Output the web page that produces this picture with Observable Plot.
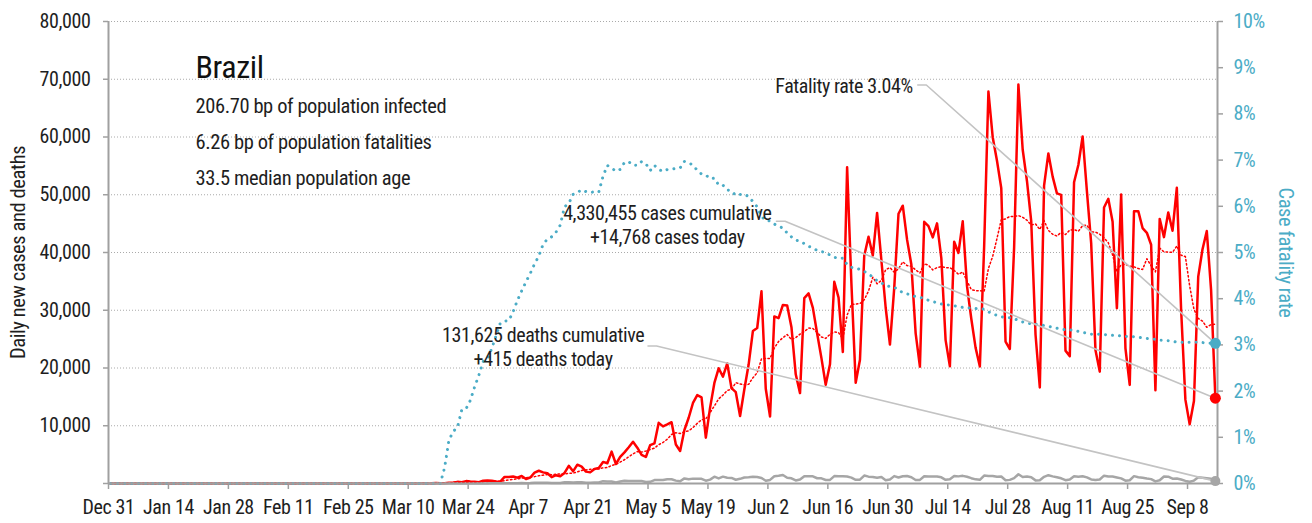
<!DOCTYPE html>
<html><head><meta charset="utf-8">
<script src="https://cdn.jsdelivr.net/npm/d3@7"></script>
<script src="https://cdn.jsdelivr.net/npm/@observablehq/plot@0.6"></script>
<style>
body{margin:0;background:#fff;}
#chart{width:1312px;height:523px;}
</style></head><body><div id="chart"></div>
<script>
// ---- axis domain & ticks ----
const startDate = "2019-12-31";
const endDate = "2020-09-15";
const xTickDates = ["2019-12-31","2020-01-14","2020-01-28","2020-02-11","2020-02-25","2020-03-10","2020-03-24","2020-04-07","2020-04-21","2020-05-05","2020-05-19","2020-06-02","2020-06-16","2020-06-30","2020-07-14","2020-07-28","2020-08-11","2020-08-25","2020-09-08"];
const yTicks = [0,10000,20000,30000,40000,50000,60000,70000,80000];
const cfrTicks = [0,1,2,3,4,5,6,7,8,9,10];
const yMax = 80000;   // left axis top
const cfrMax = 10;    // right axis top (%)

// ---- daily new cases, one value per day from Dec 31 ----
const dailyCases = [
0,0,0,0,0,0,0,0,0,0, 0,0,0,0,0,0,0,0,0,0, 0,0,0,0,0,0,0,0,0,0,
0,0,0,0,0,0,0,0,0,0, 0,0,0,0,0,0,0,0,0,0, 0,0,0,0,0,0,0,0,
1,0,0,1,0,0,0,1,5,5,6,5,1,9,18,25,21,23,79,34,
57,137,193,283,224,418,345,310,232,482,502,487,352,323,1138,
1119,1208,1012,1304,770,1031,1873,2210,1930,1781,1089,1442,1261,1832,3058,2105,3257,2917,2055,1927,2498,2678,3735,3503,5514,3379,4613,5385,6276,7218,
6209,4970,4588,6633,6935,10503,9888,10222,10611,6760,5632,9258,11385,13944,15305,14919,7938,13140,17408,19951,18508,20803,16508,15813,11687,16324,20599,26417,26928,33274,16409,
11598,28936,28633,30925,30830,27075,18912,15654,32091,32913,30412,25982,21704,17110,20647,34918,32188,22765,54771,34666,17459,21432,39436,42725,39483,46860,38693,30476,24052,33846,
46712,48105,42223,37923,26051,20229,45305,44571,42619,45048,39023,24831,20286,41857,39924,45403,34177,28532,23529,20257,41008,67860,59961,55891,51147,24578,23284,40816,69074,57837,52383,
45392,25800,16641,51603,57152,53139,50230,49970,23010,22048,52160,55155,60091,50644,41576,23101,19373,47784,49298,45323,30355,50032,23421,17078,47134,47161,44235,43412,41350,16158,45821,
42659,46934,43773,51194,30168,14521,10273,14279,35816,40557,43718,33523,14768
];

// ---- daily new deaths, one value per day from Dec 31 ----
const dailyDeaths = [
0,0,0,0,0,0,0,0,0,0, 0,0,0,0,0,0,0,0,0,0, 0,0,0,0,0,0,0,0,0,0,
0,0,0,0,0,0,0,0,0,0, 0,0,0,0,0,0,0,0,0,0, 0,0,0,0,0,0,0,0,0,0,
0,0,0,0,0,0,0,0,0,0, 0,0,0,0,0,0,0,0,
1,3,3,4,7,7,9,12,11,20,15,22,22,23,42,
40,58,60,73,54,67,114,133,141,115,68,99,105,204,204,188,217,206,115,113,166,165,407,357,346,189,338,474,449,435,
428,421,275,296,600,615,610,751,730,496,396,881,749,844,824,816,485,674,1179,888,1188,1001,965,653,807,1039,1086,1156,1124,956,480,
623,1262,1349,1473,1005,904,525,679,1272,1274,1239,909,892,612,627,1282,1269,1238,1206,1022,641,654,1374,1185,1141,990,1109,552,692,1280,
1038,1252,1290,1091,602,620,1254,1223,1220,1214,1071,631,733,1300,1233,1322,1163,921,716,632,1367,1284,1311,1156,1211,555,627,921,1595,1129,1212,
1088,541,561,1154,1437,1237,1079,905,572,703,1274,1175,1262,1060,709,620,684,1352,1212,1204,1054,892,494,565,1271,1085,984,855,758,366,553,
1215,1184,834,874,682,447,310,504,1075,983,899,814,415
];

// ---- text ----
const titleText = "Brazil";
const statLines = ["206.70 bp of population infected","6.26 bp of population fatalities","33.5 median population age"];
const leftLabel = "Daily new cases and deaths";
const rightLabel = "Case fatality rate";

// ---- colours ----
const RED = "#ff0000", BLUE = "#4bacc6", GRAY = "#a6a6a6", AXIS = "#a0a0a0", LEADER = "#c3c3c3", INK = "#1e1e1e";

// ---- build table ----
const t0 = new Date(startDate);
const cumCases = d3.cumsum(dailyCases);
const cumDeaths = d3.cumsum(dailyDeaths);
const rows = dailyCases.map((c, i) => {
  const cfr = cumCases[i] > 0 ? cumDeaths[i] / cumCases[i] * 100 : 0;
  return {date: d3.utcDay.offset(t0, i), cases: c, deaths: dailyDeaths[i], cfrY: cfr * yMax / cfrMax};
});
const X = d => d3.utcHour.offset(d.date, 12); // points sit in the middle of each day
const last = rows[rows.length - 1];

// ---- annotations (anchor in data space) ----
const notes = [
  {text: "Fatality rate 3.04%", tx: "2020-07-07", ty: 69000, anchor: "end", dx: -5,
   lx: "2020-07-07", ly: 69000, ex: "2020-07-09", target: "cfrY"},
  {text: "4,330,455 cases cumulative\n+14,768 cases today", tx: "2020-05-09T12:00", ty: 44900, anchor: "middle", dx: 0,
   lx: "2020-06-04", ly: 45400, ex: "2020-06-06", target: "cases"},
  {text: "131,625 deaths cumulative\n+415 deaths today", tx: "2020-04-10T12:00", ty: 23700, anchor: "middle", dx: 0,
   lx: "2020-05-05", ly: 23800, ex: "2020-05-07", target: "deaths"}
];
const leaderPaths = notes.map(n => [
  {x: new Date(n.lx), y: n.ly},
  {x: new Date(n.ex), y: n.ly},
  {x: X(last), y: last[n.target]}
]);

const fmtDate = d3.utcFormat("%b %-d");
const fmtNum = d3.format(",");
const cfrTickVals = cfrTicks.map(p => p * yMax / cfrMax);

const plot = Plot.plot({
  width: 1312, height: 523,
  marginLeft: 108, marginRight: 95, marginTop: 21, marginBottom: 40,
  style: {fontFamily: "'Roboto Condensed', 'Roboto', sans-serif", fontSize: "20px", color: INK, background: "#fff", overflow: "visible", letterSpacing: "-0.4px"},
  x: {type: "utc", domain: [new Date(startDate), new Date(endDate)]},
  y: {domain: [0, yMax]},
  marks: [
    Plot.gridY({ticks: yTicks.filter(d => d > 0), stroke: "#aaaaaa", strokeOpacity: 1, strokeDasharray: "1,2"}),
    // axis ticks and labels
    Plot.axisY({ticks: yTicks, tickSize: 5, tickFormat: () => "", color: AXIS, label: null, strokeWidth: 1.5}),
    Plot.axisY({ticks: yTicks, tickSize: 0, tickPadding: 18, tickFormat: d => d === 0 ? "" : fmtNum(d), color: INK, label: null}),
    Plot.axisY({ticks: cfrTickVals, anchor: "right", tickSize: 5, tickFormat: () => "", color: AXIS, label: null, strokeWidth: 1.5}),
    Plot.axisY({ticks: cfrTickVals, anchor: "right", tickSize: 0, tickPadding: 16, tickFormat: d => Math.round(d * cfrMax / yMax) + "%", color: BLUE, label: null}),
    Plot.axisX({ticks: xTickDates.map(d => new Date(d)), tickSize: 6, tickFormat: () => "", color: AXIS, label: null, strokeWidth: 1.5}),
    Plot.axisX({ticks: xTickDates.map(d => new Date(d)), tickSize: 0, tickPadding: 16, tickFormat: fmtDate, color: INK, label: null}),
    // data
    Plot.line(rows, {x: X, y: "cases", stroke: RED, strokeWidth: 2.5}),
    Plot.line(rows, {x: X, y: "deaths", stroke: GRAY, strokeWidth: 2.5}),
    Plot.line(rows, Plot.windowY({k: 7, anchor: "end"}, {x: X, y: "cases", stroke: RED, strokeWidth: 1.5, strokeDasharray: "1.5,2.5"})),
    Plot.line(rows, {x: X, y: "cfrY", stroke: BLUE, strokeWidth: 3, strokeDasharray: "0.01,7", strokeLinecap: "round"}),
    // frame lines
    Plot.ruleX([new Date(startDate)], {stroke: AXIS, strokeWidth: 2}),
    Plot.ruleX([new Date(endDate)], {stroke: AXIS, strokeWidth: 2}),
    Plot.ruleY([0], {stroke: AXIS, strokeWidth: 2}),
    // leaders
    ...leaderPaths.map(p => Plot.line(p, {x: "x", y: "y", stroke: LEADER, strokeWidth: 1.6})),
    // end dots
    Plot.dot([last], {x: X, y: "cfrY", r: 5.5, fill: BLUE}),
    Plot.dot([last], {x: X, y: "cases", r: 5.5, fill: RED}),
    Plot.dot([last], {x: X, y: "deaths", r: 5, fill: GRAY}),
    // annotation texts
    ...notes.map(n => Plot.text([n], {x: d => new Date(d.tx), y: "ty", text: "text", textAnchor: n.anchor, dx: n.dx, lineAnchor: "middle", lineHeight: 1.2, fontSize: 20, fill: INK})),
    // title block
    Plot.text([titleText], {frameAnchor: "top-left", dx: 87, dy: 46, lineAnchor: "middle", textAnchor: "start", fontSize: 32, fill: "#111", fontWeight: "normal"}),
    ...statLines.map((s, i) => Plot.text([s], {frameAnchor: "top-left", dx: 87, dy: 85 + 36 * i, lineAnchor: "middle", textAnchor: "start", fontSize: 20.5, fill: INK})),
    // axis titles
    Plot.text([leftLabel], {frameAnchor: "left", dx: -90, rotate: -90, lineAnchor: "middle", textAnchor: "middle", fontSize: 20.5, fill: INK}),
    Plot.text([rightLabel], {frameAnchor: "right", dx: 68, rotate: 90, lineAnchor: "middle", textAnchor: "middle", fontSize: 20.5, fill: BLUE})
  ]
});
document.getElementById("chart").appendChild(plot);
</script>
</body></html>
